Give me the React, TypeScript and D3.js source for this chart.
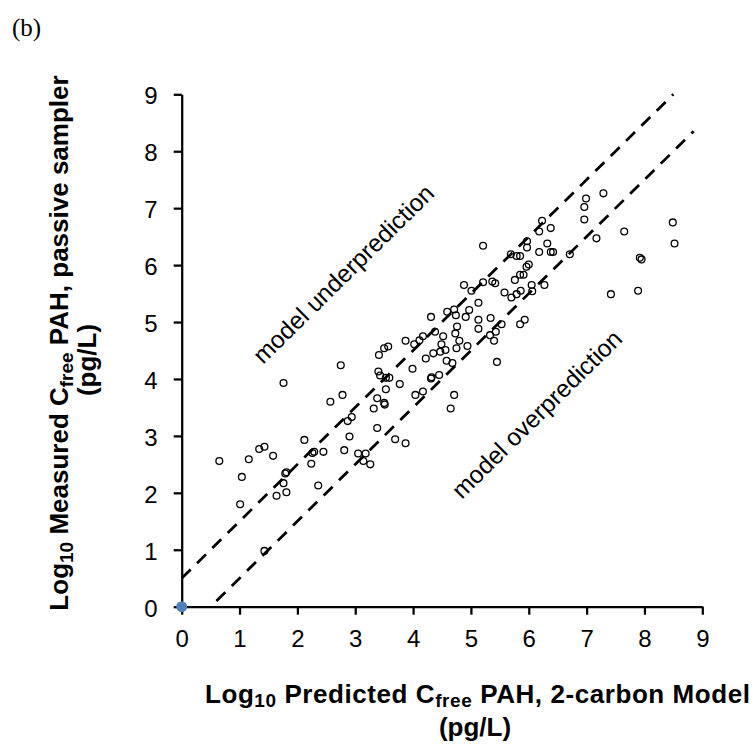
import React, { useEffect, useRef } from 'react';
import * as d3 from 'd3';

// Log10 predicted (x) and measured (y) Cfree PAH values
const predicted: number[] = [
  0.65, 1.01, 1.04, 1.16, 1.34, 1.43, 1.58, 1.76, 1.64, 1.76, 1.79, 1.81, 1.81, 1.43,
  2.12, 2.26, 2.29, 2.24, 2.45, 2.36, 2.57, 2.78, 2.75, 2.94, 2.87, 2.90, 2.81,
  3.05, 3.18, 3.14, 3.26, 3.32, 3.38, 3.38, 3.50, 3.51, 3.53, 3.40, 3.43, 3.53, 3.59,
  3.41, 3.50, 3.57, 3.77, 3.69, 3.87, 3.87, 3.99, 4.02, 4.11, 4.17, 4.22, 4.04, 4.17,
  4.31, 4.32, 4.31, 4.38, 4.35, 4.47, 4.56, 4.52, 4.49, 4.45, 4.58, 4.68, 4.71, 4.65,
  4.59, 4.71, 4.74, 4.76, 4.73, 4.80, 4.75, 4.88, 5.01, 4.97, 4.91, 5.13, 5.13, 5.13,
  4.94, 5.21, 5.37, 5.42, 5.34, 5.43, 5.33, 5.40, 5.45, 5.21, 5.58, 5.70, 5.79, 5.86,
  5.76, 6.05, 6.06, 6.27, 5.85, 5.91, 5.96, 6.00, 5.69, 5.79, 5.85, 5.97, 5.97, 6.18,
  6.23, 6.38, 6.32, 6.18, 6.38, 6.42, 6.71, 6.99, 6.96, 6.96, 7.29, 7.17, 7.65, 7.92,
  7.95, 7.42, 7.89, 8.49, 8.52, 5.53, 5.85, 5.93,
];
const measured: number[] = [
  2.56, 1.80, 2.28, 2.59, 2.77, 2.81, 2.65, 3.93, 1.95, 2.17, 2.34, 2.36, 2.01, 0.98,
  2.93, 2.70, 2.72, 2.51, 2.72, 2.13, 3.60, 3.72, 4.24, 3.33, 3.26, 2.99, 2.75,
  2.69, 2.69, 2.56, 2.50, 3.48, 3.66, 3.14, 3.58, 3.55, 3.82, 4.13, 4.06, 4.02, 4.02,
  4.42, 4.54, 4.57, 3.91, 2.94, 2.87, 4.67, 4.18, 4.61, 4.68, 4.75, 4.36, 3.72, 3.78,
  4.01, 4.03, 5.09, 4.83, 4.45, 4.48, 4.51, 4.75, 4.61, 4.07, 4.32, 4.28, 3.72, 3.48,
  5.18, 5.22, 5.12, 4.92, 4.80, 4.67, 4.54, 5.65, 5.55, 5.21, 5.09, 5.34, 5.04, 4.88,
  4.58, 5.70, 5.71, 5.68, 5.07, 4.83, 4.77, 4.67, 4.30, 6.34, 5.52, 5.43, 5.49, 5.55,
  5.74, 5.65, 5.54, 5.65, 5.83, 5.83, 5.97, 6.01, 6.19, 6.16, 6.16, 6.42, 6.31, 6.59,
  6.78, 6.65, 6.38, 6.23, 6.23, 6.23, 6.19, 7.17, 7.02, 6.80, 7.26, 6.47, 6.59, 6.13,
  6.10, 5.49, 5.55, 6.75, 6.38, 4.96, 4.96, 5.04,
];

// Origin marker (blue)
const originX: number[] = [0];
const originY: number[] = [0];

// Axis ticks
const tickValues: number[] = [0, 1, 2, 3, 4, 5, 6, 7, 8, 9];

// Reference lines (1:1 +/- 0.5 log unit)
const upperLineX: number[] = [0, 8.5];
const upperLineY: number[] = [0.5, 9];
const lowerLineX: number[] = [0.6, 8.85];
const lowerLineY: number[] = [0.1, 8.35];

// Annotations (text and anchor in data units)
const annotationTexts: string[] = ['model underprediction', 'model overprediction'];
const annotationX: number[] = [1.405, 4.84];
const annotationY: number[] = [4.245, 1.875];

const FONT = '"Liberation Sans", Arial, Helvetica, sans-serif';
const SERIF = '"Liberation Serif", "Times New Roman", serif';

export default function App() {
  const ref = useRef<SVGGElement>(null);

  useEffect(() => {
    const root = d3.select(ref.current);
    root.selectAll('*').remove();

    const x = d3.scaleLinear().domain([0, 9]).range([181.7, 702.3]);
    const y = d3.scaleLinear().domain([0, 9]).range([606.7, 94.3]);

    // dashed reference lines
    const line = d3
      .line<[number, number]>()
      .x((d) => x(d[0]))
      .y((d) => y(d[1]));
    const refLines: [number, number][][] = [
      upperLineX.map((v, i) => [v, upperLineY[i]] as [number, number]),
      lowerLineX.map((v, i) => [v, lowerLineY[i]] as [number, number]),
    ];
    root
      .append('g')
      .selectAll('path')
      .data(refLines)
      .join('path')
      .attr('d', (d) => line(d))
      .attr('fill', 'none')
      .attr('stroke', '#000')
      .attr('stroke-width', 2.75)
      .attr('stroke-dasharray', '12.5,9');

    // scatter points
    root
      .append('g')
      .selectAll('circle')
      .data(predicted)
      .join('circle')
      .attr('cx', (d) => x(d))
      .attr('cy', (_d, i) => y(measured[i]))
      .attr('r', 3.4)
      .attr('fill', 'none')
      .attr('stroke', '#000')
      .attr('stroke-width', 1.3);

    // axes
    const xAxis = d3
      .axisBottom(x)
      .tickValues(tickValues)
      .tickSize(8)
      .tickSizeOuter(0)
      .tickPadding(15)
      .tickFormat(d3.format('d'));
    const gx = root
      .append('g')
      .attr('transform', `translate(0,${y(0)})`)
      .call(xAxis)
      .attr('font-size', 24)
      .attr('font-family', FONT);
    gx.select('.domain').attr('stroke', '#000').attr('stroke-width', 2.25);
    gx.selectAll('.tick line').attr('stroke', '#000').attr('stroke-width', 2.25);
    gx.selectAll('.tick text').attr('fill', '#000');

    const yAxis = d3
      .axisLeft(y)
      .tickValues(tickValues)
      .tickSize(8)
      .tickSizeOuter(0)
      .tickPadding(16)
      .tickFormat(d3.format('d'));
    const gy = root
      .append('g')
      .attr('transform', `translate(${x(0)},0)`)
      .call(yAxis)
      .attr('font-size', 24)
      .attr('font-family', FONT);
    gy.select('.domain').attr('stroke', '#000').attr('stroke-width', 2.25);
    gy.selectAll('.tick line').attr('stroke', '#000').attr('stroke-width', 2.25);
    gy.selectAll('.tick text').attr('fill', '#000').attr('dy', '0.4em');

    // origin point
    root
      .append('g')
      .selectAll('circle')
      .data(originX)
      .join('circle')
      .attr('cx', (d) => x(d))
      .attr('cy', (_d, i) => y(originY[i]))
      .attr('r', 5.5)
      .attr('fill', '#4f81bd');

    // annotations rotated along the 1:1 lines
    const angle = (-Math.atan2(y(0) - y(1), x(1) - x(0)) * 180) / Math.PI;
    root
      .append('g')
      .selectAll('text')
      .data(annotationTexts)
      .join('text')
      .attr(
        'transform',
        (_d, i) => `translate(${x(annotationX[i])},${y(annotationY[i])}) rotate(${angle})`
      )
      .attr('font-family', FONT)
      .attr('font-size', 24.5)
      .attr('fill', '#000')
      .text((d) => d);
  }, []);

  const subStyle = { fontSize: 19 };

  return (
    <svg
      width={756}
      height={745}
      style={{ position: 'absolute', left: 0, top: 0, background: '#fff' }}
    >
      <g ref={ref} />
      <text x={12} y={36} fontFamily={SERIF} fontSize={25} fill="#000">
        (b)
      </text>
      {/* x-axis title */}
      <text
        x={750}
        y={703}
        textAnchor="end"
        fontFamily={FONT}
        fontWeight="bold"
        fontSize={26}
        fill="#000"
        textLength={545}
        lengthAdjust="spacing"
      >
        Log
        <tspan dy={4} style={subStyle}>10</tspan>
        <tspan dy={-4}> Predicted C</tspan>
        <tspan dy={4} style={subStyle}>free</tspan>
        <tspan dy={-4}> PAH, 2-carbon Model</tspan>
      </text>
      <text
        x={475}
        y={736}
        textAnchor="middle"
        fontFamily={FONT}
        fontWeight="bold"
        fontSize={26}
        fill="#000"
      >
        (pg/L)
      </text>
      {/* y-axis title */}
      <text
        transform="translate(68,343) rotate(-90)"
        textAnchor="middle"
        fontFamily={FONT}
        fontWeight="bold"
        fontSize={26}
        fill="#000"
      >
        Log
        <tspan dy={4.5} style={subStyle}>10</tspan>
        <tspan dy={-4.5}> Measured C</tspan>
        <tspan dy={4.5} style={subStyle}>free</tspan>
        <tspan dy={-4.5}> PAH, passive sampler</tspan>
      </text>
      <text
        transform="translate(96,360) rotate(-90)"
        textAnchor="middle"
        fontFamily={FONT}
        fontWeight="bold"
        fontSize={26}
        fill="#000"
      >
        (pg/L)
      </text>
    </svg>
  );
}
